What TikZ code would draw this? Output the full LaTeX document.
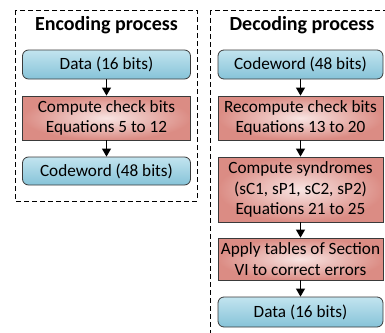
\documentclass[tikz,border=0pt]{standalone}
\usepackage{fontspec}
\setmainfont{Carlito}
\usepackage{tikz}
\usetikzlibrary{arrows.meta}
\usetikzlibrary{shadings}

\definecolor{bluetop}{HTML}{C2E4EF}
\definecolor{bluebot}{HTML}{86C3D8}
\definecolor{redin}{HTML}{F8E4E2}
\definecolor{redout}{HTML}{DB8C84}
\definecolor{edgegray}{HTML}{3A3A3A}

\begin{document}
\begin{tikzpicture}[x=1pt,y=-1pt,
    datablock/.style={draw=edgegray, line width=0.8pt, rounded corners=6pt,
        top color=bluetop, bottom color=bluebot, minimum width=168pt,
        align=center, inner sep=0pt, font=\fontsize{17.2}{20.5}\selectfont},
    stepblock/.style={draw=edgegray, line width=0.8pt, inner color=redin,
        outer color=redout, minimum width=168pt,
        align=center, inner sep=0pt, font=\fontsize{17.2}{20.5}\selectfont},
    frame/.style={dash pattern=on 5pt off 3pt, line width=0.7pt},
    title/.style={font=\fontsize{20}{24}\selectfont\bfseries},
    flow/.style={-{Triangle[width=9pt,length=8pt]}, line width=0.9pt}
    ]
\useasboundingbox (0,0) rectangle (385,332);
\clip (0,0) rectangle (385,332);

% encoding side
\draw[frame] (15,10) rectangle (197,201);
\node[title] (enctitle) at (106.5,25) {Encoding process};
\node[datablock, minimum height=29pt] (encdata) at (106.5,64.5) {Data (16 bits)};
\node[stepblock, minimum height=44pt] (enccheck) at (106.5,118) {Compute check bits\\Equations 5 to 12};
\node[datablock, minimum height=28pt] (enccode) at (106.5,171) {Codeword (48 bits)};

\draw[flow] (encdata) -- (enccheck);
\draw[flow] (enccheck) -- (enccode);

% decoding side
\draw[frame] (210,10) rectangle (400,345);
\node[title] (dectitle) at (302,25) {Decoding process};
\node[datablock, minimum width=165pt, minimum height=29pt] (deccode) at (300.5,64.5) {Codeword (48 bits)};
\node[stepblock, minimum width=165pt, minimum height=44pt] (deccheck) at (300.5,118) {Recompute check bits\\Equations 13 to 20};
\node[stepblock, minimum width=165pt, minimum height=65pt] (decsyn) at (300.5,189.5) {Compute syndromes\\(sC1, sP1, sC2, sP2)\\Equations 21 to 25};
\node[stepblock, minimum width=165pt, minimum height=42pt] (decfix) at (300.5,259) {Apply tables of Section\\VI to correct errors};
\node[datablock, minimum width=165pt, minimum height=30pt] (decdata) at (300.5,312) {Data (16 bits)};

\draw[flow] (deccode) -- (deccheck);
\draw[flow] (deccheck) -- (decsyn);
\draw[flow] (decsyn) -- (decfix);
\draw[flow] (decfix) -- (decdata);

\end{tikzpicture}
\end{document}
